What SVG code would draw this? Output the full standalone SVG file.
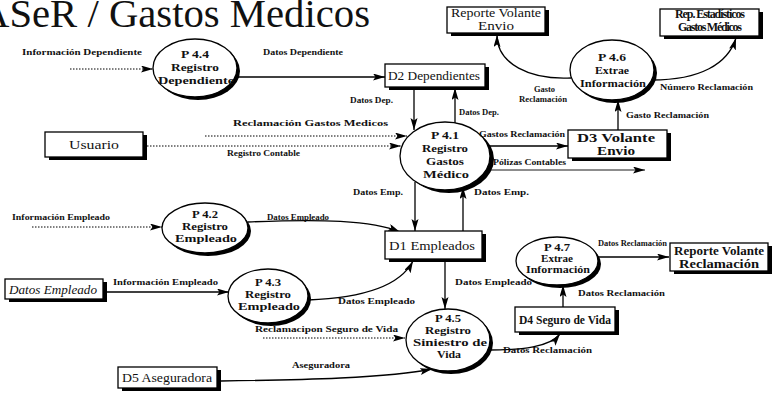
<svg xmlns="http://www.w3.org/2000/svg" width="775" height="395" viewBox="0 0 775 395" font-family="'Liberation Serif', 'Times New Roman', serif">
<defs>
<marker id="ah" markerUnits="userSpaceOnUse" markerWidth="13" markerHeight="8" refX="12" refY="3.5" orient="auto">
<path d="M0,0 L12,3.5 L0,7 L2.5,3.5 z" fill="#000"/>
</marker>
</defs>
<style>
text{font-family:"Liberation Serif","Times New Roman",serif;fill:#111}
.lbl{font-size:9px;font-weight:bold}
.nt{font-size:10.5px;font-weight:bold;text-anchor:middle}
.bt{font-size:12px;text-anchor:middle}
.bx{fill:#fff;stroke:#000;stroke-width:1.3}
.sh{fill:#000}
.ln{stroke:#000;stroke-width:1.3;fill:none;marker-end:url(#ah)}
.thin{stroke-width:0.9}
.dt{stroke:#000;stroke-width:1;fill:none;stroke-dasharray:1.5 1.5;marker-end:url(#ah)}
.pe{fill:#fff;stroke:#000;stroke-width:1.3}
</style>
<rect width="775" height="395" fill="#fff"/>
<text x="-20" y="27" font-size="40" textLength="390" lengthAdjust="spacingAndGlyphs">ASeR / Gastos Medicos</text>

<g id="connectors">
<path class="dt" d="M70,69 L153,69"/>
<path class="ln" d="M234,77 L385,77"/>
<path class="ln" d="M414,87 L414,130"/>
<path class="ln" d="M455,123 L455,88"/>
<path class="dt" d="M147,146 L401,146"/>
<path class="dt" d="M205,136 L407,136"/>
<path class="ln" d="M489,146 L568,146"/>
<path class="ln thin" d="M487,170 L645,170"/>
<path class="ln" d="M618,130 L618,100"/>
<path class="ln" d="M571,78 C530,80 497,64 497,35"/>
<path class="ln" d="M652,80 C700,80 728,64 736,38"/>
<path class="ln" d="M415,182 L415,231"/>
<path class="ln" d="M463,231 L463,187"/>
<path class="dt" d="M32,227 L162,227"/>
<path class="ln" d="M248,222 C320,219 372,220 400,232"/>
<path class="ln" d="M107,292 L229,292"/>
<path class="ln" d="M308,300 C362,298 400,286 413,261"/>
<path class="ln" d="M445,259 L445,309"/>
<path class="dt" d="M263,338 L405,338"/>
<path class="ln" d="M221,381 C300,380 390,378 432,369"/>
<path class="ln" d="M489,350 C522,350 550,347 560,334"/>
<path class="ln" d="M563,307 L563,285"/>
<path class="ln" d="M598,257 L669,257"/>
</g>

<g id="P4.4">
<ellipse class="sh" cx="198" cy="71" rx="42" ry="29"/>
<ellipse class="pe" cx="195" cy="68" rx="42" ry="29"/>
<text class="nt" x="195" y="58" textLength="28" lengthAdjust="spacingAndGlyphs">P 4.4</text>
<text class="nt" x="195" y="71" textLength="48" lengthAdjust="spacingAndGlyphs">Registro</text>
<text class="nt" x="196" y="84" textLength="76" lengthAdjust="spacingAndGlyphs">Dependiente</text>
</g>
<g id="P4.1">
<ellipse class="sh" cx="449" cy="159" rx="45" ry="34"/>
<ellipse class="pe" cx="445" cy="156" rx="45" ry="34"/>
<text class="nt" x="445" y="139" textLength="28" lengthAdjust="spacingAndGlyphs">P 4.1</text>
<text class="nt" x="445" y="152" textLength="46" lengthAdjust="spacingAndGlyphs">Registro</text>
<text class="nt" x="445" y="165" textLength="38" lengthAdjust="spacingAndGlyphs">Gastos</text>
<text class="nt" x="446" y="178" textLength="46" lengthAdjust="spacingAndGlyphs">Médico</text>
</g>
<g id="P4.6">
<ellipse class="sh" cx="615" cy="73" rx="42" ry="30"/>
<ellipse class="pe" cx="612" cy="70" rx="42" ry="30"/>
<text class="nt" x="612" y="61" textLength="28" lengthAdjust="spacingAndGlyphs">P 4.6</text>
<text class="nt" x="612" y="74" textLength="34" lengthAdjust="spacingAndGlyphs">Extrae</text>
<text class="nt" x="613" y="87" textLength="66" lengthAdjust="spacingAndGlyphs">Información</text>
</g>
<g id="P4.2">
<ellipse class="sh" cx="208" cy="231" rx="43" ry="25"/>
<ellipse class="pe" cx="205" cy="228" rx="43" ry="25"/>
<text class="nt" x="205" y="218" textLength="26" lengthAdjust="spacingAndGlyphs">P 4.2</text>
<text class="nt" x="205" y="230" textLength="46" lengthAdjust="spacingAndGlyphs">Registro</text>
<text class="nt" x="206" y="242" textLength="62" lengthAdjust="spacingAndGlyphs">Empleado</text>
</g>
<g id="P4.3">
<ellipse class="sh" cx="271" cy="299" rx="40" ry="27"/>
<ellipse class="pe" cx="268" cy="296" rx="40" ry="27"/>
<text class="nt" x="268" y="286" textLength="26" lengthAdjust="spacingAndGlyphs">P 4.3</text>
<text class="nt" x="268" y="298" textLength="46" lengthAdjust="spacingAndGlyphs">Registro</text>
<text class="nt" x="269" y="310" textLength="62" lengthAdjust="spacingAndGlyphs">Empleado</text>
</g>
<g id="P4.5">
<ellipse class="sh" cx="451" cy="343" rx="42" ry="31"/>
<ellipse class="pe" cx="448" cy="340" rx="42" ry="31"/>
<text class="nt" x="448" y="322" textLength="26" lengthAdjust="spacingAndGlyphs">P 4.5</text>
<text class="nt" x="448" y="334" textLength="46" lengthAdjust="spacingAndGlyphs">Registro</text>
<text class="nt" x="450" y="346" textLength="74" lengthAdjust="spacingAndGlyphs">Siniestro de</text>
<text class="nt" x="449" y="358" textLength="24" lengthAdjust="spacingAndGlyphs">Vida</text>
</g>
<g id="P4.7">
<ellipse class="sh" cx="560" cy="264" rx="41" ry="24"/>
<ellipse class="pe" cx="557" cy="261" rx="41" ry="24"/>
<text class="nt" x="557" y="251" font-size="9.5" textLength="26" lengthAdjust="spacingAndGlyphs">P 4.7</text>
<text class="nt" x="557" y="262" font-size="9.5" textLength="32" lengthAdjust="spacingAndGlyphs">Extrae</text>
<text class="nt" x="558" y="273" font-size="9.5" textLength="64" lengthAdjust="spacingAndGlyphs">Información</text>
</g>

<g id="ReporteVolanteEnvio">
<rect class="sh" x="451" y="10" width="98" height="26"/>
<rect class="bx" x="447" y="7" width="98" height="26"/>
<text class="bt" x="496" y="17" font-size="9.5" textLength="90" lengthAdjust="spacingAndGlyphs">Reporte Volante</text>
<text class="bt" x="496" y="30" font-size="9.5" textLength="36" lengthAdjust="spacingAndGlyphs">Envio</text>
</g>
<g id="RepEstadisticos">
<rect class="sh" x="664" y="12" width="99" height="27"/>
<rect class="bx" x="660" y="9" width="99" height="27"/>
<text class="bt" x="710" y="18" font-size="7" font-weight="bold" textLength="70">Rep. Estadísticos</text>
<text class="bt" x="710" y="31" font-size="7" font-weight="bold" textLength="64">Gastos Médicos</text>
</g>
<g id="D2">
<rect class="sh" x="389" y="67" width="100" height="23"/>
<rect class="bx" x="385" y="64" width="100" height="23"/>
<text class="bt" x="434" y="80" textLength="92" lengthAdjust="spacingAndGlyphs">D2 Dependientes</text>
</g>
<g id="Usuario">
<rect class="sh" x="49" y="135" width="98" height="25"/>
<rect class="bx" x="45" y="132" width="98" height="25"/>
<text class="bt" x="94" y="149" textLength="50" lengthAdjust="spacingAndGlyphs">Usuario</text>
</g>
<g id="D3">
<rect class="sh" x="572" y="133" width="99" height="28"/>
<rect class="bx" x="568" y="130" width="99" height="28"/>
<text class="bt" x="616" y="142" font-size="10" font-weight="bold" textLength="78" lengthAdjust="spacingAndGlyphs">D3 Volante</text>
<text class="bt" x="616" y="155" font-size="10" font-weight="bold" textLength="38" lengthAdjust="spacingAndGlyphs">Envio</text>
</g>
<g id="D1">
<rect class="sh" x="389" y="234" width="97" height="28"/>
<rect class="bx" x="385" y="231" width="97" height="28"/>
<text class="bt" x="432" y="250" textLength="86" lengthAdjust="spacingAndGlyphs">D1  Empleados</text>
</g>
<g id="ReporteVolanteReclamacion">
<rect class="sh" x="674" y="246" width="98" height="28"/>
<rect class="bx" x="670" y="243" width="98" height="28"/>
<text class="bt" x="719" y="255" font-size="10" font-weight="bold" textLength="90" lengthAdjust="spacingAndGlyphs">Reporte Volante</text>
<text class="bt" x="719" y="268" font-size="10" font-weight="bold" textLength="80" lengthAdjust="spacingAndGlyphs">Reclamación</text>
</g>
<g id="DatosEmpleado">
<rect class="sh" x="9" y="282" width="98" height="20"/>
<rect class="bx" x="5" y="279" width="98" height="20"/>
<text class="bt" x="53" y="294" font-style="italic" textLength="88" lengthAdjust="spacingAndGlyphs">Datos Empleado</text>
</g>
<g id="D4">
<rect class="sh" x="519" y="310" width="100" height="25"/>
<rect class="bx" x="515" y="307" width="100" height="25"/>
<text class="bt" x="565" y="324" font-size="11" font-weight="bold" textLength="92" lengthAdjust="spacingAndGlyphs">D4  Seguro de Vida</text>
</g>
<g id="D5">
<rect class="sh" x="122" y="370" width="99" height="21"/>
<rect class="bx" x="118" y="367" width="99" height="21"/>
<text class="bt" x="167" y="382" textLength="90" lengthAdjust="spacingAndGlyphs">D5  Aseguradora</text>
</g>

<g id="labels">
<text class="lbl" x="22" y="55" textLength="120" lengthAdjust="spacingAndGlyphs">Información Dependiente</text>
<text class="lbl" x="263" y="55" textLength="80" lengthAdjust="spacingAndGlyphs">Datos Dependiente</text>
<text class="lbl" x="350" y="103" textLength="43" lengthAdjust="spacingAndGlyphs">Datos Dep.</text>
<text class="lbl" x="459" y="115" textLength="40" lengthAdjust="spacingAndGlyphs">Datos Dep.</text>
<text class="lbl" x="233" y="126" textLength="155" lengthAdjust="spacingAndGlyphs">Reclamación Gastos Medicos</text>
<text class="lbl" x="227" y="156" textLength="73" lengthAdjust="spacingAndGlyphs">Registro Contable</text>
<text class="lbl" x="479" y="137" textLength="86" lengthAdjust="spacingAndGlyphs">Gastos Reclamación</text>
<text class="lbl" x="493" y="165" textLength="73" lengthAdjust="spacingAndGlyphs">Pólizas Contables</text>
<text class="lbl" x="534" y="92" textLength="21" lengthAdjust="spacingAndGlyphs">Gasto</text>
<text class="lbl" x="519" y="102" textLength="48" lengthAdjust="spacingAndGlyphs">Reclamación</text>
<text class="lbl" x="660" y="90" textLength="93" lengthAdjust="spacingAndGlyphs">Número Reclamación</text>
<text class="lbl" x="626" y="118" textLength="83" lengthAdjust="spacingAndGlyphs">Gasto Reclamación</text>
<text class="lbl" x="353" y="195" textLength="50" lengthAdjust="spacingAndGlyphs">Datos Emp.</text>
<text class="lbl" x="474" y="195" textLength="55" lengthAdjust="spacingAndGlyphs">Datos Emp.</text>
<text class="lbl" x="12" y="220" textLength="98" lengthAdjust="spacingAndGlyphs">Información Empleado</text>
<text class="lbl" x="267" y="220" textLength="62" lengthAdjust="spacingAndGlyphs">Datos Empleado</text>
<text class="lbl" x="113" y="285" textLength="105" lengthAdjust="spacingAndGlyphs">Información Empleado</text>
<text class="lbl" x="338" y="304" textLength="77" lengthAdjust="spacingAndGlyphs">Datos Empleado</text>
<text class="lbl" x="455" y="285" textLength="77" lengthAdjust="spacingAndGlyphs">Datos Empleado</text>
<text class="lbl" x="255" y="332" textLength="143" lengthAdjust="spacingAndGlyphs">Reclamacipon Seguro de Vida</text>
<text class="lbl" x="292" y="368" textLength="58" lengthAdjust="spacingAndGlyphs">Aseguradora</text>
<text class="lbl" x="503" y="353" textLength="89" lengthAdjust="spacingAndGlyphs">Datos Reclamación</text>
<text class="lbl" x="578" y="296" textLength="87" lengthAdjust="spacingAndGlyphs">Datos Reclamación</text>
<text class="lbl" x="598" y="246" textLength="69" lengthAdjust="spacingAndGlyphs">Datos Reclamación</text>
</g>
</svg>
